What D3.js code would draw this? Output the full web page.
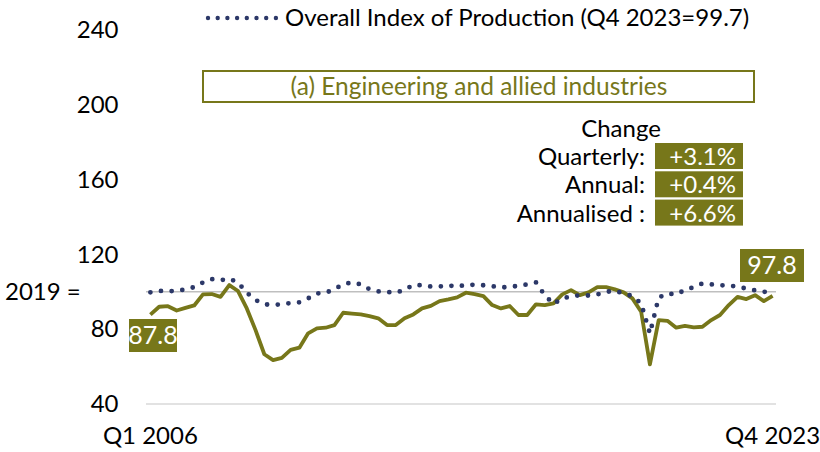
<!DOCTYPE html>
<html>
<head>
<meta charset="utf-8">
<script src="https://cdn.jsdelivr.net/npm/d3@7"></script>
<style>
  body { margin: 0; background: #fff; }
  svg { display: block; font-family: Lato, "Open Sans", sans-serif; }
</style>
</head>
<body>
<div id="chart"></div>
<script>
// quarters Q1 2006 .. Q4 2023
var years = d3.range(2006, 2024);
var qtrs = ["Q1", "Q2", "Q3", "Q4"];
var quarters = [];
years.forEach(function (y) { qtrs.forEach(function (q) { quarters.push(q + " " + y); }); });

// (a) Engineering and allied industries, 2019 = 100
var engineering = [
  87.8, 92.0, 92.3, 90.0, 91.4, 92.7, 98.6, 98.8, 97.3, 103.6, 100.4, 91.1,
  79.5, 66.6, 63.5, 64.7, 68.9, 70.1, 77.8, 80.4, 80.8, 82.2, 88.8, 88.3,
  87.9, 87.0, 85.8, 82.2, 82.2, 85.8, 87.9, 91.1, 92.5, 95.0, 95.9, 97.0,
  99.5, 98.8, 97.7, 92.9, 91.1, 92.4, 87.6, 87.6, 93.3, 92.9, 93.8, 98.6,
  100.9, 98.2, 99.7, 102.5, 102.5, 101.3, 99.7, 96.5, 89.3, 61.2, 84.9, 84.5,
  80.8, 81.8, 81.0, 81.3, 84.9, 87.6, 92.9, 97.3, 96.1, 98.2, 95.0, 97.8
];

// Overall Index of Production
var overall = [
  99.7, 100.5, 100.3, 100.5, 101.3, 102.5, 105.0, 106.8, 106.2, 107.0, 105.0, 99.5,
  95.6, 93.3, 93.0, 93.3, 94.0, 94.4, 96.5, 99.1, 99.5, 101.4, 104.0, 105.0,
  104.0, 101.4, 100.2, 99.9, 99.5, 101.0, 103.7, 103.5, 102.8, 102.8, 103.5, 102.6,
  103.8, 103.7, 103.5, 103.0, 102.2, 102.8, 103.1, 104.0, 105.0, 98.2, 93.5, 96.5,
  97.5, 98.2, 98.0, 98.6, 100.0, 100.5, 99.1, 97.7, 93.8, 77.7, 96.9, 99.1,
  98.6, 101.0, 102.5, 104.5, 104.0, 103.5, 103.3, 102.8, 101.7, 100.8, 100.0, 99.7
];

var yTicks = [40, 80, 120, 160, 200, 240];
var changeLabels = ["Quarterly:", "Annual:", "Annualised :"];
var changeValues = ["+3.1%", "+0.4%", "+6.6%"];
var legendText = "Overall Index of Production (Q4 2023=99.7)";
var panelTitle = "(a) Engineering and allied industries";

var olive = "#77771a";
var navy = "#2c3868";
var fs = 24;
var svgWidth = 820, svgHeight = 452;

var svg = d3.select("#chart").append("svg")
  .attr("width", svgWidth).attr("height", svgHeight);

var x = d3.scalePoint().domain(quarters).range([150.4, 772.6]);
var y = d3.scaleLinear().domain([40, 240]).range([404, 30]);

// baseline and 2019 = 100 line
svg.append("line")
  .attr("x1", 146).attr("x2", 776)
  .attr("y1", y(40)).attr("y2", y(40))
  .attr("stroke", "#d9d9d9").attr("stroke-width", 1.5);
svg.append("line")
  .attr("x1", 146).attr("x2", 776)
  .attr("y1", y(100)).attr("y2", y(100))
  .attr("stroke", "#bfbfbf").attr("stroke-width", 1.5);

// y axis labels
var yAxis = svg.append("g")
  .attr("transform", "translate(146,0)")
  .call(d3.axisLeft(y).tickValues(yTicks).tickSize(0).tickPadding(27.5));
yAxis.select(".domain").remove();
yAxis.selectAll("text")
  .attr("font-family", "Lato, sans-serif")
  .attr("font-size", fs)
  .attr("fill", "#000");

svg.append("text")
  .attr("x", 5).attr("y", y(100)).attr("dy", ".35em")
  .attr("font-size", fs)
  .text("2019 =");

// x labels, first and last quarter only
svg.append("text")
  .attr("x", x(quarters[0])).attr("y", 444)
  .attr("text-anchor", "middle").attr("font-size", fs)
  .text(quarters[0]);
svg.append("text")
  .attr("x", x(quarters[quarters.length - 1])).attr("y", 444)
  .attr("text-anchor", "middle").attr("font-size", fs)
  .text(quarters[quarters.length - 1]);

// lines
var line = d3.line()
  .x(function (d, i) { return x(quarters[i]); })
  .y(function (d) { return y(d); });

svg.append("path")
  .datum(engineering)
  .attr("d", line)
  .attr("fill", "none")
  .attr("stroke", olive)
  .attr("stroke-width", 3.8)
  .attr("stroke-linejoin", "round");

svg.append("path")
  .datum(overall)
  .attr("d", line)
  .attr("fill", "none")
  .attr("stroke", navy)
  .attr("stroke-width", 4.8)
  .attr("stroke-linecap", "round")
  .attr("stroke-dasharray", "0,10.7");

// legend
svg.append("line")
  .attr("x1", 208).attr("x2", 276).attr("y1", 18).attr("y2", 18)
  .attr("stroke", navy).attr("stroke-width", 4.4)
  .attr("stroke-linecap", "round")
  .attr("stroke-dasharray", "0,9.7");
svg.append("text")
  .attr("x", 285).attr("y", 26)
  .attr("font-size", fs)
  .text(legendText);

// panel title box
svg.append("rect")
  .attr("x", 203).attr("y", 71).attr("width", 551).attr("height", 31)
  .attr("fill", "none").attr("stroke", olive).attr("stroke-width", 2);
svg.append("text")
  .attr("x", 479).attr("y", 95)
  .attr("text-anchor", "middle").attr("font-size", 24.5)
  .attr("fill", olive)
  .text(panelTitle);

// change table
svg.append("text")
  .attr("x", 621).attr("y", 137)
  .attr("text-anchor", "middle").attr("font-size", fs)
  .text("Change");
changeLabels.forEach(function (lab, i) {
  var top = 143 + i * 28.3;
  svg.append("rect")
    .attr("x", 655).attr("y", top).attr("width", 88).attr("height", 26)
    .attr("fill", olive);
  svg.append("text")
    .attr("x", 645).attr("y", top + 22)
    .attr("text-anchor", "end").attr("font-size", fs)
    .text(lab);
  svg.append("text")
    .attr("x", 736).attr("y", top + 22)
    .attr("text-anchor", "end").attr("font-size", fs)
    .attr("fill", "#fff")
    .text(changeValues[i]);
});

// first and last value labels
svg.append("rect")
  .attr("x", 129).attr("y", 319).attr("width", 48).attr("height", 33)
  .attr("fill", olive);
svg.append("text")
  .attr("x", 153).attr("y", 344)
  .attr("text-anchor", "middle").attr("font-size", 25)
  .attr("fill", "#fff")
  .text(engineering[0].toFixed(1));

svg.append("rect")
  .attr("x", 740).attr("y", 249).attr("width", 64).attr("height", 33)
  .attr("fill", olive);
svg.append("text")
  .attr("x", 772).attr("y", 274)
  .attr("text-anchor", "middle").attr("font-size", 25)
  .attr("fill", "#fff")
  .text(engineering[engineering.length - 1].toFixed(1));
</script>
</body>
</html>
